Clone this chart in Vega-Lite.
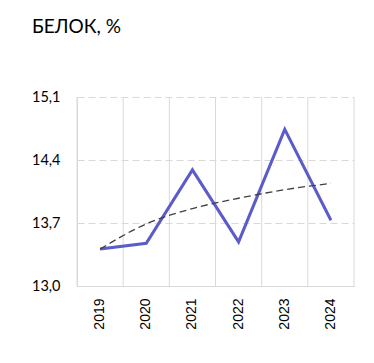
{
  "$schema": "https://vega.github.io/schema/vega-lite/v6.json",
  "width": 277,
  "height": 189,
  "autosize": "none",
  "padding": {"left": 77, "top": 97, "right": 20, "bottom": 77},
  "background": "white",
  "title": {
    "text": "БЕЛОК, %",
    "anchor": "start",
    "frame": "group",
    "dx": -45,
    "offset": 52,
    "font": "Lato",
    "fontSize": 19,
    "fontWeight": "normal",
    "color": "#000000"
  },
  "config": {
    "view": {"stroke": null},
    "axis": {"labelFont": "Lato", "labelColor": "#000000"}
  },
  "data": {
    "values": [
      {"year": "2019", "value": 13.41, "trend": 13.41},
      {"year": "2020", "value": 13.475, "trend": 13.69},
      {"year": "2021", "value": 14.29, "trend": 13.86},
      {"year": "2022", "value": 13.49, "trend": 13.975},
      {"year": "2023", "value": 14.74, "trend": 14.07},
      {"year": "2024", "value": 13.73, "trend": 14.14}
    ]
  },
  "encoding": {
    "x": {
      "field": "year",
      "type": "ordinal",
      "scale": {"type": "band", "paddingInner": 0, "paddingOuter": 0},
      "axis": {
        "title": null,
        "labelAngle": -90,
        "labelFont": "Liberation Sans",
        "labelFontSize": 14,
        "labelPadding": 12,
        "ticks": false,
        "domainColor": "#D9D9D9",
        "grid": false
      }
    }
  },
  "layer": [
    {
      "mark": {"type": "rule", "color": "#D9D9D9", "strokeWidth": 1},
      "encoding": {"x": {"field": "year", "type": "ordinal", "bandPosition": 0}}
    },
    {
      "transform": [{"filter": "datum.year == '2024'"}],
      "mark": {"type": "rule", "color": "#D9D9D9", "strokeWidth": 1},
      "encoding": {"x": {"field": "year", "type": "ordinal", "bandPosition": 1}}
    },
    {
      "mark": {"type": "line", "color": "#5B5BC9", "strokeWidth": 3},
      "encoding": {
        "x": {"field": "year", "type": "ordinal", "bandPosition": 0.5},
        "y": {
          "field": "value",
          "type": "quantitative",
          "scale": {"domain": [13, 15.1], "zero": false, "nice": false},
          "axis": {
            "title": null,
            "values": [13, 13.7, 14.4, 15.1],
            "labelExpr": "replace(format(datum.value, '.1f'), '.', ',')",
            "labelFontSize": 14.5,
            "labelPadding": 17,
            "ticks": false,
            "domainColor": "#D9D9D9",
            "gridColor": "#D9D9D9",
            "gridDash": [7, 4],
            "gridWidth": 1
          }
        }
      }
    },
    {
      "mark": {"type": "line", "color": "#404040", "strokeWidth": 1.3, "strokeDash": [7, 4], "interpolate": "monotone"},
      "encoding": {
        "x": {"field": "year", "type": "ordinal", "bandPosition": 0.5},
        "y": {"field": "trend", "type": "quantitative"}
      }
    }
  ]
}
